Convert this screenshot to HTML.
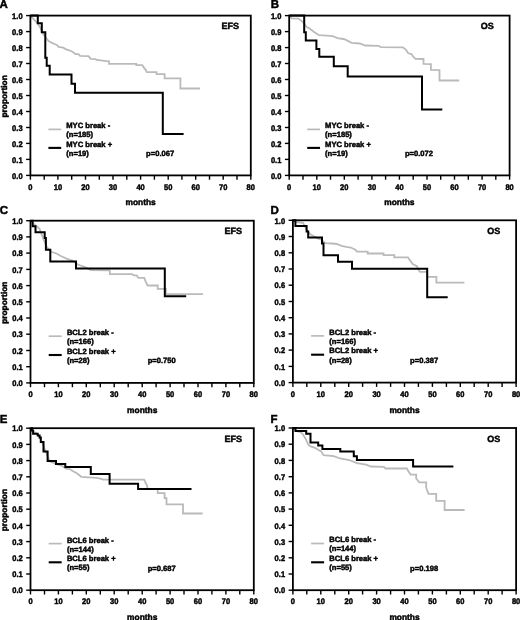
<!DOCTYPE html>
<html><head><meta charset="utf-8"><title>Kaplan-Meier curves</title>
<style>
html,body{margin:0;padding:0;background:#fff;}
body{width:520px;height:620px;overflow:hidden;}
svg{display:block;will-change:transform;}
text{font-family:"Liberation Sans", sans-serif;font-weight:bold;fill:#000;stroke:#000;stroke-width:0.45px;stroke-linejoin:round;text-rendering:geometricPrecision;}
.let{font-size:11.5px;}
.ttl{font-size:9px;text-anchor:end;}
.yl{font-size:8.1px;text-anchor:end;}
.xl{font-size:8.1px;text-anchor:middle;}
.at{font-size:8.4px;text-anchor:middle;}
.lg{font-size:7.6px;}
.gr{fill:none;stroke:#bababa;stroke-width:1.8;stroke-linejoin:miter;}
.bk{fill:none;stroke:#000;stroke-width:2.0;stroke-linejoin:miter;stroke-linecap:butt;}
.ax{fill:none;stroke:#000;stroke-width:1.8;}
.tk{stroke:#000;stroke-width:1.4;}
.lgr{stroke:#bababa;stroke-width:1.7;}
.lbk{stroke:#000;stroke-width:2.1;}
</style></head>
<body>
<svg width="520" height="620" viewBox="0 0 520 620">
<rect width="520" height="620" fill="#fff"/>
<text x="-0.5" y="8.3" class="let">A</text>
<polyline points="30.4,15.6 31.3,16.6 36.0,21.7 38.0,24.0 40.5,28.0 42.5,33.0 45.8,37.8 48.7,41.0 51.5,42.7 55.0,44.2 57.3,45.3 58.5,47.0 63.1,47.6 66.2,49.4 71.5,51.2 73.8,52.7 75.4,54.2 78.5,54.2 80.0,55.8 88.5,56.2 90.8,58.8 95.4,59.2 96.9,60.0 106.2,61.1 109.0,61.4 109.0,63.9 136.3,63.9 136.3,65.2 142.4,65.2 143.7,67.4 145.8,70.1 146.8,72.2 156.5,72.2 156.5,74.2 164.6,74.2 164.6,78.4 180.4,78.4 180.4,88.5 200.0,88.5" class="gr"/>
<polyline points="30.4,15.6 37.8,15.6 37.8,23.2 41.8,23.2 41.8,32.2 45.3,32.2 45.3,57.8 46.7,57.8 46.7,65.7 49.7,65.7 49.7,74.5 71.5,74.5 71.5,83.7 75.0,83.7 75.0,92.8 162.8,92.8 162.8,133.9 183.6,133.9" class="bk"/>
<rect x="30.4" y="15.6" width="220.4" height="159.8" class="ax"/>
<line x1="26.1" y1="175.4" x2="30.4" y2="175.4" class="tk"/>
<text transform="translate(22.6,178.6) scale(0.93,1)" class="yl">0.0</text>
<line x1="26.1" y1="159.4" x2="30.4" y2="159.4" class="tk"/>
<text transform="translate(22.6,162.6) scale(0.93,1)" class="yl">0.1</text>
<line x1="26.1" y1="143.4" x2="30.4" y2="143.4" class="tk"/>
<text transform="translate(22.6,146.6) scale(0.93,1)" class="yl">0.2</text>
<line x1="26.1" y1="127.5" x2="30.4" y2="127.5" class="tk"/>
<text transform="translate(22.6,130.7) scale(0.93,1)" class="yl">0.3</text>
<line x1="26.1" y1="111.5" x2="30.4" y2="111.5" class="tk"/>
<text transform="translate(22.6,114.7) scale(0.93,1)" class="yl">0.4</text>
<line x1="26.1" y1="95.5" x2="30.4" y2="95.5" class="tk"/>
<text transform="translate(22.6,98.7) scale(0.93,1)" class="yl">0.5</text>
<line x1="26.1" y1="79.5" x2="30.4" y2="79.5" class="tk"/>
<text transform="translate(22.6,82.7) scale(0.93,1)" class="yl">0.6</text>
<line x1="26.1" y1="63.5" x2="30.4" y2="63.5" class="tk"/>
<text transform="translate(22.6,66.7) scale(0.93,1)" class="yl">0.7</text>
<line x1="26.1" y1="47.6" x2="30.4" y2="47.6" class="tk"/>
<text transform="translate(22.6,50.8) scale(0.93,1)" class="yl">0.8</text>
<line x1="26.1" y1="31.6" x2="30.4" y2="31.6" class="tk"/>
<text transform="translate(22.6,34.8) scale(0.93,1)" class="yl">0.9</text>
<line x1="26.1" y1="15.6" x2="30.4" y2="15.6" class="tk"/>
<text transform="translate(22.6,18.8) scale(0.93,1)" class="yl">1.0</text>
<line x1="30.4" y1="175.4" x2="30.4" y2="179.7" class="tk"/>
<text transform="translate(30.4,189.5) scale(0.93,1)" class="xl">0</text>
<line x1="44.2" y1="175.4" x2="44.2" y2="179.7" class="tk"/>
<line x1="57.9" y1="175.4" x2="57.9" y2="179.7" class="tk"/>
<text transform="translate(57.9,189.5) scale(0.93,1)" class="xl">10</text>
<line x1="71.7" y1="175.4" x2="71.7" y2="179.7" class="tk"/>
<line x1="85.5" y1="175.4" x2="85.5" y2="179.7" class="tk"/>
<text transform="translate(85.5,189.5) scale(0.93,1)" class="xl">20</text>
<line x1="99.3" y1="175.4" x2="99.3" y2="179.7" class="tk"/>
<line x1="113.0" y1="175.4" x2="113.0" y2="179.7" class="tk"/>
<text transform="translate(113.0,189.5) scale(0.93,1)" class="xl">30</text>
<line x1="126.8" y1="175.4" x2="126.8" y2="179.7" class="tk"/>
<line x1="140.6" y1="175.4" x2="140.6" y2="179.7" class="tk"/>
<text transform="translate(140.6,189.5) scale(0.93,1)" class="xl">40</text>
<line x1="154.4" y1="175.4" x2="154.4" y2="179.7" class="tk"/>
<line x1="168.2" y1="175.4" x2="168.2" y2="179.7" class="tk"/>
<text transform="translate(168.2,189.5) scale(0.93,1)" class="xl">50</text>
<line x1="181.9" y1="175.4" x2="181.9" y2="179.7" class="tk"/>
<line x1="195.7" y1="175.4" x2="195.7" y2="179.7" class="tk"/>
<text transform="translate(195.7,189.5) scale(0.93,1)" class="xl">60</text>
<line x1="209.5" y1="175.4" x2="209.5" y2="179.7" class="tk"/>
<line x1="223.2" y1="175.4" x2="223.2" y2="179.7" class="tk"/>
<text transform="translate(223.2,189.5) scale(0.93,1)" class="xl">70</text>
<line x1="237.0" y1="175.4" x2="237.0" y2="179.7" class="tk"/>
<line x1="250.8" y1="175.4" x2="250.8" y2="179.7" class="tk"/>
<text transform="translate(250.8,189.5) scale(0.93,1)" class="xl">80</text>
<text x="140.6" y="205.4" class="at">months</text>
<text transform="translate(7.1,96.4) rotate(-90)" class="at">proportion</text>
<text x="239.0" y="29.0" class="ttl">EFS</text>
<line x1="48.4" y1="129.4" x2="61.2" y2="129.4" class="lgr"/>
<line x1="48.4" y1="147.9" x2="61.2" y2="147.9" class="lbk"/>
<text x="66.3" y="128.3" class="lg">MYC break -</text>
<text x="66.3" y="137.2" class="lg">(n=185)</text>
<text x="66.3" y="146.5" class="lg">MYC break +</text>
<text x="66.3" y="155.6" class="lg">(n=19)</text>
<text x="146.1" y="155.7" class="lg">p=0.067</text>
<text x="270.7" y="8.3" class="let">B</text>
<polyline points="289.2,15.6 290.5,15.8 291.5,18.3 298.6,18.6 303.4,22.6 306.7,27.0 309.6,28.5 314.4,32.3 319.2,35.2 326.9,35.7 332.7,36.2 337.5,38.1 343.3,39.0 345.0,39.4 351.7,42.8 359.8,43.5 365.2,45.5 378.8,45.8 380.8,47.2 402.9,47.3 405.8,49.6 408.2,53.3 411.5,54.0 413.0,56.5 415.4,58.8 423.5,59.0 423.5,63.9 430.9,64.1 430.9,69.9 439.5,70.1 439.5,80.5 459.2,80.5" class="gr"/>
<polyline points="289.2,15.6 304.2,15.6 304.2,32.2 305.8,32.2 305.8,40.4 316.4,40.4 316.4,49.0 319.3,49.0 319.3,56.8 333.8,56.8 333.8,66.2 347.7,66.2 347.7,76.5 422.0,76.5 422.0,109.5 442.3,109.5" class="bk"/>
<rect x="289.2" y="15.6" width="220.4" height="159.8" class="ax"/>
<line x1="284.9" y1="175.4" x2="289.2" y2="175.4" class="tk"/>
<text transform="translate(281.4,178.6) scale(0.93,1)" class="yl">0.0</text>
<line x1="284.9" y1="159.4" x2="289.2" y2="159.4" class="tk"/>
<text transform="translate(281.4,162.6) scale(0.93,1)" class="yl">0.1</text>
<line x1="284.9" y1="143.4" x2="289.2" y2="143.4" class="tk"/>
<text transform="translate(281.4,146.6) scale(0.93,1)" class="yl">0.2</text>
<line x1="284.9" y1="127.5" x2="289.2" y2="127.5" class="tk"/>
<text transform="translate(281.4,130.7) scale(0.93,1)" class="yl">0.3</text>
<line x1="284.9" y1="111.5" x2="289.2" y2="111.5" class="tk"/>
<text transform="translate(281.4,114.7) scale(0.93,1)" class="yl">0.4</text>
<line x1="284.9" y1="95.5" x2="289.2" y2="95.5" class="tk"/>
<text transform="translate(281.4,98.7) scale(0.93,1)" class="yl">0.5</text>
<line x1="284.9" y1="79.5" x2="289.2" y2="79.5" class="tk"/>
<text transform="translate(281.4,82.7) scale(0.93,1)" class="yl">0.6</text>
<line x1="284.9" y1="63.5" x2="289.2" y2="63.5" class="tk"/>
<text transform="translate(281.4,66.7) scale(0.93,1)" class="yl">0.7</text>
<line x1="284.9" y1="47.6" x2="289.2" y2="47.6" class="tk"/>
<text transform="translate(281.4,50.8) scale(0.93,1)" class="yl">0.8</text>
<line x1="284.9" y1="31.6" x2="289.2" y2="31.6" class="tk"/>
<text transform="translate(281.4,34.8) scale(0.93,1)" class="yl">0.9</text>
<line x1="284.9" y1="15.6" x2="289.2" y2="15.6" class="tk"/>
<text transform="translate(281.4,18.8) scale(0.93,1)" class="yl">1.0</text>
<line x1="289.2" y1="175.4" x2="289.2" y2="179.7" class="tk"/>
<text transform="translate(289.2,189.5) scale(0.93,1)" class="xl">0</text>
<line x1="303.0" y1="175.4" x2="303.0" y2="179.7" class="tk"/>
<line x1="316.8" y1="175.4" x2="316.8" y2="179.7" class="tk"/>
<text transform="translate(316.8,189.5) scale(0.93,1)" class="xl">10</text>
<line x1="330.5" y1="175.4" x2="330.5" y2="179.7" class="tk"/>
<line x1="344.3" y1="175.4" x2="344.3" y2="179.7" class="tk"/>
<text transform="translate(344.3,189.5) scale(0.93,1)" class="xl">20</text>
<line x1="358.1" y1="175.4" x2="358.1" y2="179.7" class="tk"/>
<line x1="371.9" y1="175.4" x2="371.9" y2="179.7" class="tk"/>
<text transform="translate(371.9,189.5) scale(0.93,1)" class="xl">30</text>
<line x1="385.6" y1="175.4" x2="385.6" y2="179.7" class="tk"/>
<line x1="399.4" y1="175.4" x2="399.4" y2="179.7" class="tk"/>
<text transform="translate(399.4,189.5) scale(0.93,1)" class="xl">40</text>
<line x1="413.2" y1="175.4" x2="413.2" y2="179.7" class="tk"/>
<line x1="427.0" y1="175.4" x2="427.0" y2="179.7" class="tk"/>
<text transform="translate(427.0,189.5) scale(0.93,1)" class="xl">50</text>
<line x1="440.7" y1="175.4" x2="440.7" y2="179.7" class="tk"/>
<line x1="454.5" y1="175.4" x2="454.5" y2="179.7" class="tk"/>
<text transform="translate(454.5,189.5) scale(0.93,1)" class="xl">60</text>
<line x1="468.3" y1="175.4" x2="468.3" y2="179.7" class="tk"/>
<line x1="482.1" y1="175.4" x2="482.1" y2="179.7" class="tk"/>
<text transform="translate(482.1,189.5) scale(0.93,1)" class="xl">70</text>
<line x1="495.8" y1="175.4" x2="495.8" y2="179.7" class="tk"/>
<line x1="509.6" y1="175.4" x2="509.6" y2="179.7" class="tk"/>
<text transform="translate(509.6,189.5) scale(0.93,1)" class="xl">80</text>
<text x="399.4" y="205.4" class="at">months</text>
<text x="493.7" y="29.0" class="ttl">OS</text>
<line x1="307.2" y1="129.4" x2="320.0" y2="129.4" class="lgr"/>
<line x1="307.2" y1="147.9" x2="320.0" y2="147.9" class="lbk"/>
<text x="325.1" y="128.3" class="lg">MYC break -</text>
<text x="325.1" y="137.2" class="lg">(n=185)</text>
<text x="325.1" y="146.5" class="lg">MYC break +</text>
<text x="325.1" y="155.6" class="lg">(n=19)</text>
<text x="404.9" y="155.7" class="lg">p=0.072</text>
<text x="-0.3" y="213.6" class="let">C</text>
<polyline points="30.5,220.8 32.6,222.9 39.5,228.7 43.0,237.9 46.5,246.5 50.0,250.5 51.7,252.0 56.5,253.5 61.3,256.3 67.1,258.8 72.8,260.7 77.7,264.5 80.5,265.5 84.4,266.9 88.0,268.5 90.8,270.2 109.8,270.4 109.8,274.2 132.2,274.2 133.7,275.4 136.5,275.4 138.5,277.8 144.2,277.8 145.7,281.6 147.6,285.5 157.7,285.5 157.7,288.8 165.9,288.8 165.9,294.2 203.1,294.2" class="gr"/>
<polyline points="30.5,220.8 32.6,220.8 32.6,226.2 35.5,226.2 35.5,232.2 44.7,232.2 44.7,237.9 45.9,237.9 45.9,249.8 50.3,249.8 50.3,261.4 76.0,261.4 76.0,268.4 164.8,268.4 164.8,296.3 186.2,296.3" class="bk"/>
<rect x="30.5" y="220.7" width="223.3" height="162.2" class="ax"/>
<line x1="26.2" y1="382.9" x2="30.5" y2="382.9" class="tk"/>
<text transform="translate(22.7,386.1) scale(0.93,1)" class="yl">0.0</text>
<line x1="26.2" y1="366.7" x2="30.5" y2="366.7" class="tk"/>
<text transform="translate(22.7,369.9) scale(0.93,1)" class="yl">0.1</text>
<line x1="26.2" y1="350.5" x2="30.5" y2="350.5" class="tk"/>
<text transform="translate(22.7,353.7) scale(0.93,1)" class="yl">0.2</text>
<line x1="26.2" y1="334.2" x2="30.5" y2="334.2" class="tk"/>
<text transform="translate(22.7,337.4) scale(0.93,1)" class="yl">0.3</text>
<line x1="26.2" y1="318.0" x2="30.5" y2="318.0" class="tk"/>
<text transform="translate(22.7,321.2) scale(0.93,1)" class="yl">0.4</text>
<line x1="26.2" y1="301.8" x2="30.5" y2="301.8" class="tk"/>
<text transform="translate(22.7,305.0) scale(0.93,1)" class="yl">0.5</text>
<line x1="26.2" y1="285.6" x2="30.5" y2="285.6" class="tk"/>
<text transform="translate(22.7,288.8) scale(0.93,1)" class="yl">0.6</text>
<line x1="26.2" y1="269.4" x2="30.5" y2="269.4" class="tk"/>
<text transform="translate(22.7,272.6) scale(0.93,1)" class="yl">0.7</text>
<line x1="26.2" y1="253.1" x2="30.5" y2="253.1" class="tk"/>
<text transform="translate(22.7,256.3) scale(0.93,1)" class="yl">0.8</text>
<line x1="26.2" y1="236.9" x2="30.5" y2="236.9" class="tk"/>
<text transform="translate(22.7,240.1) scale(0.93,1)" class="yl">0.9</text>
<line x1="26.2" y1="220.7" x2="30.5" y2="220.7" class="tk"/>
<text transform="translate(22.7,223.9) scale(0.93,1)" class="yl">1.0</text>
<line x1="30.5" y1="382.9" x2="30.5" y2="387.2" class="tk"/>
<text transform="translate(30.5,397.0) scale(0.93,1)" class="xl">0</text>
<line x1="44.5" y1="382.9" x2="44.5" y2="387.2" class="tk"/>
<line x1="58.4" y1="382.9" x2="58.4" y2="387.2" class="tk"/>
<text transform="translate(58.4,397.0) scale(0.93,1)" class="xl">10</text>
<line x1="72.4" y1="382.9" x2="72.4" y2="387.2" class="tk"/>
<line x1="86.3" y1="382.9" x2="86.3" y2="387.2" class="tk"/>
<text transform="translate(86.3,397.0) scale(0.93,1)" class="xl">20</text>
<line x1="100.3" y1="382.9" x2="100.3" y2="387.2" class="tk"/>
<line x1="114.2" y1="382.9" x2="114.2" y2="387.2" class="tk"/>
<text transform="translate(114.2,397.0) scale(0.93,1)" class="xl">30</text>
<line x1="128.2" y1="382.9" x2="128.2" y2="387.2" class="tk"/>
<line x1="142.2" y1="382.9" x2="142.2" y2="387.2" class="tk"/>
<text transform="translate(142.2,397.0) scale(0.93,1)" class="xl">40</text>
<line x1="156.1" y1="382.9" x2="156.1" y2="387.2" class="tk"/>
<line x1="170.1" y1="382.9" x2="170.1" y2="387.2" class="tk"/>
<text transform="translate(170.1,397.0) scale(0.93,1)" class="xl">50</text>
<line x1="184.0" y1="382.9" x2="184.0" y2="387.2" class="tk"/>
<line x1="198.0" y1="382.9" x2="198.0" y2="387.2" class="tk"/>
<text transform="translate(198.0,397.0) scale(0.93,1)" class="xl">60</text>
<line x1="211.9" y1="382.9" x2="211.9" y2="387.2" class="tk"/>
<line x1="225.9" y1="382.9" x2="225.9" y2="387.2" class="tk"/>
<text transform="translate(225.9,397.0) scale(0.93,1)" class="xl">70</text>
<line x1="239.8" y1="382.9" x2="239.8" y2="387.2" class="tk"/>
<line x1="253.8" y1="382.9" x2="253.8" y2="387.2" class="tk"/>
<text transform="translate(253.8,397.0) scale(0.93,1)" class="xl">80</text>
<text x="142.2" y="412.9" class="at">months</text>
<text transform="translate(7.2,302.7) rotate(-90)" class="at">proportion</text>
<text x="242.0" y="234.3" class="ttl">EFS</text>
<line x1="48.7" y1="336.2" x2="61.7" y2="336.2" class="lgr"/>
<line x1="48.7" y1="355.0" x2="61.7" y2="355.0" class="lbk"/>
<text x="66.9" y="335.1" class="lg">BCL2 break -</text>
<text x="66.9" y="344.1" class="lg">(n=166)</text>
<text x="66.9" y="353.6" class="lg">BCL2 break +</text>
<text x="66.9" y="362.8" class="lg">(n=28)</text>
<text x="147.7" y="363.2" class="lg">p=0.750</text>
<text x="270.5" y="213.6" class="let">D</text>
<polyline points="292.9,220.3 296.2,222.2 303.0,222.9 307.7,231.4 310.4,234.2 317.7,238.5 320.8,239.4 325.4,243.2 332.3,243.5 336.9,244.0 341.5,245.8 346.2,246.9 350.8,247.5 355.4,249.8 357.0,251.6 367.7,251.6 367.7,253.5 383.5,253.5 383.5,255.2 394.3,255.2 394.3,257.3 408.0,257.4 410.4,260.9 412.7,264.0 416.9,266.2 418.0,268.8 420.0,271.9 427.2,271.9 427.2,276.9 436.4,276.9 436.4,282.6 464.4,282.6" class="gr"/>
<polyline points="292.9,220.3 295.4,220.3 295.4,226.0 306.6,226.0 306.6,231.4 308.2,231.4 308.2,237.5 322.0,237.5 322.0,243.4 323.5,243.4 323.5,255.2 338.0,255.2 338.0,261.8 352.0,261.8 352.0,268.8 427.2,268.8 427.2,297.3 447.7,297.3" class="bk"/>
<rect x="292.9" y="220.3" width="223.2" height="162.3" class="ax"/>
<line x1="288.6" y1="382.6" x2="292.9" y2="382.6" class="tk"/>
<text transform="translate(285.1,385.8) scale(0.93,1)" class="yl">0.0</text>
<line x1="288.6" y1="366.4" x2="292.9" y2="366.4" class="tk"/>
<text transform="translate(285.1,369.6) scale(0.93,1)" class="yl">0.1</text>
<line x1="288.6" y1="350.1" x2="292.9" y2="350.1" class="tk"/>
<text transform="translate(285.1,353.3) scale(0.93,1)" class="yl">0.2</text>
<line x1="288.6" y1="333.9" x2="292.9" y2="333.9" class="tk"/>
<text transform="translate(285.1,337.1) scale(0.93,1)" class="yl">0.3</text>
<line x1="288.6" y1="317.7" x2="292.9" y2="317.7" class="tk"/>
<text transform="translate(285.1,320.9) scale(0.93,1)" class="yl">0.4</text>
<line x1="288.6" y1="301.5" x2="292.9" y2="301.5" class="tk"/>
<text transform="translate(285.1,304.7) scale(0.93,1)" class="yl">0.5</text>
<line x1="288.6" y1="285.2" x2="292.9" y2="285.2" class="tk"/>
<text transform="translate(285.1,288.4) scale(0.93,1)" class="yl">0.6</text>
<line x1="288.6" y1="269.0" x2="292.9" y2="269.0" class="tk"/>
<text transform="translate(285.1,272.2) scale(0.93,1)" class="yl">0.7</text>
<line x1="288.6" y1="252.8" x2="292.9" y2="252.8" class="tk"/>
<text transform="translate(285.1,256.0) scale(0.93,1)" class="yl">0.8</text>
<line x1="288.6" y1="236.5" x2="292.9" y2="236.5" class="tk"/>
<text transform="translate(285.1,239.7) scale(0.93,1)" class="yl">0.9</text>
<line x1="288.6" y1="220.3" x2="292.9" y2="220.3" class="tk"/>
<text transform="translate(285.1,223.5) scale(0.93,1)" class="yl">1.0</text>
<line x1="292.9" y1="382.6" x2="292.9" y2="386.9" class="tk"/>
<text transform="translate(292.9,396.7) scale(0.93,1)" class="xl">0</text>
<line x1="306.8" y1="382.6" x2="306.8" y2="386.9" class="tk"/>
<line x1="320.8" y1="382.6" x2="320.8" y2="386.9" class="tk"/>
<text transform="translate(320.8,396.7) scale(0.93,1)" class="xl">10</text>
<line x1="334.8" y1="382.6" x2="334.8" y2="386.9" class="tk"/>
<line x1="348.7" y1="382.6" x2="348.7" y2="386.9" class="tk"/>
<text transform="translate(348.7,396.7) scale(0.93,1)" class="xl">20</text>
<line x1="362.6" y1="382.6" x2="362.6" y2="386.9" class="tk"/>
<line x1="376.6" y1="382.6" x2="376.6" y2="386.9" class="tk"/>
<text transform="translate(376.6,396.7) scale(0.93,1)" class="xl">30</text>
<line x1="390.6" y1="382.6" x2="390.6" y2="386.9" class="tk"/>
<line x1="404.5" y1="382.6" x2="404.5" y2="386.9" class="tk"/>
<text transform="translate(404.5,396.7) scale(0.93,1)" class="xl">40</text>
<line x1="418.4" y1="382.6" x2="418.4" y2="386.9" class="tk"/>
<line x1="432.4" y1="382.6" x2="432.4" y2="386.9" class="tk"/>
<text transform="translate(432.4,396.7) scale(0.93,1)" class="xl">50</text>
<line x1="446.4" y1="382.6" x2="446.4" y2="386.9" class="tk"/>
<line x1="460.3" y1="382.6" x2="460.3" y2="386.9" class="tk"/>
<text transform="translate(460.3,396.7) scale(0.93,1)" class="xl">60</text>
<line x1="474.2" y1="382.6" x2="474.2" y2="386.9" class="tk"/>
<line x1="488.2" y1="382.6" x2="488.2" y2="386.9" class="tk"/>
<text transform="translate(488.2,396.7) scale(0.93,1)" class="xl">70</text>
<line x1="502.1" y1="382.6" x2="502.1" y2="386.9" class="tk"/>
<line x1="516.1" y1="382.6" x2="516.1" y2="386.9" class="tk"/>
<text transform="translate(516.1,396.7) scale(0.93,1)" class="xl">80</text>
<text x="404.5" y="412.6" class="at">months</text>
<text x="500.2" y="233.9" class="ttl">OS</text>
<line x1="311.1" y1="335.9" x2="324.1" y2="335.9" class="lgr"/>
<line x1="311.1" y1="354.7" x2="324.1" y2="354.7" class="lbk"/>
<text x="329.3" y="334.8" class="lg">BCL2 break -</text>
<text x="329.3" y="343.8" class="lg">(n=166)</text>
<text x="329.3" y="353.2" class="lg">BCL2 break +</text>
<text x="329.3" y="362.5" class="lg">(n=28)</text>
<text x="410.1" y="362.9" class="lg">p=0.387</text>
<text x="-0.3" y="422.5" class="let">E</text>
<polyline points="30.5,428.2 33.0,431.0 38.0,434.5 41.0,440.0 44.0,447.0 47.0,455.0 50.0,461.5 56.0,463.8 62.0,465.8 65.8,468.7 69.6,469.1 73.5,471.5 77.3,473.5 81.2,476.8 88.8,477.3 96.5,477.8 100.4,478.6 103.3,479.7 144.2,479.7 145.7,483.0 147.1,485.9 147.7,488.9 157.7,488.9 157.7,493.1 164.6,493.1 164.6,498.1 166.5,498.1 166.5,504.3 183.0,504.3 183.0,513.5 202.7,513.5" class="gr"/>
<polyline points="30.5,428.2 31.9,428.2 31.9,430.6 33.1,430.6 33.1,433.7 37.7,433.7 37.7,435.6 39.6,435.6 39.6,437.5 40.8,437.5 40.8,442.0 43.5,442.0 43.5,451.6 47.6,451.6 47.6,460.9 56.0,460.9 56.0,463.9 65.3,463.9 65.3,467.0 90.8,467.0 90.8,474.0 109.6,474.0 109.6,483.7 138.1,483.7 138.1,488.9 191.5,488.9" class="bk"/>
<rect x="30.5" y="428.2" width="223.3" height="162.0" class="ax"/>
<line x1="26.2" y1="590.2" x2="30.5" y2="590.2" class="tk"/>
<text transform="translate(22.7,593.4) scale(0.93,1)" class="yl">0.0</text>
<line x1="26.2" y1="574.0" x2="30.5" y2="574.0" class="tk"/>
<text transform="translate(22.7,577.2) scale(0.93,1)" class="yl">0.1</text>
<line x1="26.2" y1="557.8" x2="30.5" y2="557.8" class="tk"/>
<text transform="translate(22.7,561.0) scale(0.93,1)" class="yl">0.2</text>
<line x1="26.2" y1="541.6" x2="30.5" y2="541.6" class="tk"/>
<text transform="translate(22.7,544.8) scale(0.93,1)" class="yl">0.3</text>
<line x1="26.2" y1="525.4" x2="30.5" y2="525.4" class="tk"/>
<text transform="translate(22.7,528.6) scale(0.93,1)" class="yl">0.4</text>
<line x1="26.2" y1="509.2" x2="30.5" y2="509.2" class="tk"/>
<text transform="translate(22.7,512.4) scale(0.93,1)" class="yl">0.5</text>
<line x1="26.2" y1="493.0" x2="30.5" y2="493.0" class="tk"/>
<text transform="translate(22.7,496.2) scale(0.93,1)" class="yl">0.6</text>
<line x1="26.2" y1="476.8" x2="30.5" y2="476.8" class="tk"/>
<text transform="translate(22.7,480.0) scale(0.93,1)" class="yl">0.7</text>
<line x1="26.2" y1="460.6" x2="30.5" y2="460.6" class="tk"/>
<text transform="translate(22.7,463.8) scale(0.93,1)" class="yl">0.8</text>
<line x1="26.2" y1="444.4" x2="30.5" y2="444.4" class="tk"/>
<text transform="translate(22.7,447.6) scale(0.93,1)" class="yl">0.9</text>
<line x1="26.2" y1="428.2" x2="30.5" y2="428.2" class="tk"/>
<text transform="translate(22.7,431.4) scale(0.93,1)" class="yl">1.0</text>
<line x1="30.5" y1="590.2" x2="30.5" y2="594.5" class="tk"/>
<text transform="translate(30.5,604.3) scale(0.93,1)" class="xl">0</text>
<line x1="44.5" y1="590.2" x2="44.5" y2="594.5" class="tk"/>
<line x1="58.4" y1="590.2" x2="58.4" y2="594.5" class="tk"/>
<text transform="translate(58.4,604.3) scale(0.93,1)" class="xl">10</text>
<line x1="72.4" y1="590.2" x2="72.4" y2="594.5" class="tk"/>
<line x1="86.3" y1="590.2" x2="86.3" y2="594.5" class="tk"/>
<text transform="translate(86.3,604.3) scale(0.93,1)" class="xl">20</text>
<line x1="100.3" y1="590.2" x2="100.3" y2="594.5" class="tk"/>
<line x1="114.2" y1="590.2" x2="114.2" y2="594.5" class="tk"/>
<text transform="translate(114.2,604.3) scale(0.93,1)" class="xl">30</text>
<line x1="128.2" y1="590.2" x2="128.2" y2="594.5" class="tk"/>
<line x1="142.2" y1="590.2" x2="142.2" y2="594.5" class="tk"/>
<text transform="translate(142.2,604.3) scale(0.93,1)" class="xl">40</text>
<line x1="156.1" y1="590.2" x2="156.1" y2="594.5" class="tk"/>
<line x1="170.1" y1="590.2" x2="170.1" y2="594.5" class="tk"/>
<text transform="translate(170.1,604.3) scale(0.93,1)" class="xl">50</text>
<line x1="184.0" y1="590.2" x2="184.0" y2="594.5" class="tk"/>
<line x1="198.0" y1="590.2" x2="198.0" y2="594.5" class="tk"/>
<text transform="translate(198.0,604.3) scale(0.93,1)" class="xl">60</text>
<line x1="211.9" y1="590.2" x2="211.9" y2="594.5" class="tk"/>
<line x1="225.9" y1="590.2" x2="225.9" y2="594.5" class="tk"/>
<text transform="translate(225.9,604.3) scale(0.93,1)" class="xl">70</text>
<line x1="239.8" y1="590.2" x2="239.8" y2="594.5" class="tk"/>
<line x1="253.8" y1="590.2" x2="253.8" y2="594.5" class="tk"/>
<text transform="translate(253.8,604.3) scale(0.93,1)" class="xl">80</text>
<text x="142.2" y="620.2" class="at">months</text>
<text transform="translate(7.2,510.1) rotate(-90)" class="at">proportion</text>
<text x="242.0" y="441.8" class="ttl">EFS</text>
<line x1="48.7" y1="543.6" x2="61.7" y2="543.6" class="lgr"/>
<line x1="48.7" y1="562.3" x2="61.7" y2="562.3" class="lbk"/>
<text x="66.9" y="542.5" class="lg">BCL6 break -</text>
<text x="66.9" y="551.5" class="lg">(n=144)</text>
<text x="66.9" y="560.9" class="lg">BCL6 break +</text>
<text x="66.9" y="570.1" class="lg">(n=55)</text>
<text x="147.7" y="570.5" class="lg">p=0.687</text>
<text x="270.5" y="422.5" class="let">F</text>
<polyline points="292.9,428.0 295.5,430.6 301.2,432.5 303.5,435.2 305.8,439.1 308.2,444.5 310.5,446.4 315.1,447.9 318.2,449.8 321.2,451.4 323.5,455.2 333.8,456.2 340.0,458.5 349.2,460.0 356.9,463.1 366.2,464.6 370.8,466.5 383.8,466.9 385.4,468.5 406.9,468.5 408.5,471.5 410.8,474.6 416.2,474.6 416.2,478.5 419.2,482.3 426.2,482.3 426.2,487.7 428.5,493.8 436.2,493.8 436.2,500.8 444.6,500.8 444.6,510.0 464.6,510.0" class="gr"/>
<polyline points="292.9,428.0 295.5,428.0 295.5,431.0 306.2,431.0 306.2,433.7 310.5,433.7 310.5,442.5 318.2,442.5 318.2,445.6 322.4,445.6 322.4,448.9 340.3,448.9 340.3,451.5 353.8,451.5 353.8,456.2 356.9,456.2 356.9,460.0 413.1,460.0 413.1,466.6 453.4,466.6" class="bk"/>
<rect x="292.9" y="428.0" width="223.2" height="162.2" class="ax"/>
<line x1="288.6" y1="590.2" x2="292.9" y2="590.2" class="tk"/>
<text transform="translate(285.1,593.4) scale(0.93,1)" class="yl">0.0</text>
<line x1="288.6" y1="574.0" x2="292.9" y2="574.0" class="tk"/>
<text transform="translate(285.1,577.2) scale(0.93,1)" class="yl">0.1</text>
<line x1="288.6" y1="557.8" x2="292.9" y2="557.8" class="tk"/>
<text transform="translate(285.1,561.0) scale(0.93,1)" class="yl">0.2</text>
<line x1="288.6" y1="541.5" x2="292.9" y2="541.5" class="tk"/>
<text transform="translate(285.1,544.7) scale(0.93,1)" class="yl">0.3</text>
<line x1="288.6" y1="525.3" x2="292.9" y2="525.3" class="tk"/>
<text transform="translate(285.1,528.5) scale(0.93,1)" class="yl">0.4</text>
<line x1="288.6" y1="509.1" x2="292.9" y2="509.1" class="tk"/>
<text transform="translate(285.1,512.3) scale(0.93,1)" class="yl">0.5</text>
<line x1="288.6" y1="492.9" x2="292.9" y2="492.9" class="tk"/>
<text transform="translate(285.1,496.1) scale(0.93,1)" class="yl">0.6</text>
<line x1="288.6" y1="476.7" x2="292.9" y2="476.7" class="tk"/>
<text transform="translate(285.1,479.9) scale(0.93,1)" class="yl">0.7</text>
<line x1="288.6" y1="460.4" x2="292.9" y2="460.4" class="tk"/>
<text transform="translate(285.1,463.6) scale(0.93,1)" class="yl">0.8</text>
<line x1="288.6" y1="444.2" x2="292.9" y2="444.2" class="tk"/>
<text transform="translate(285.1,447.4) scale(0.93,1)" class="yl">0.9</text>
<line x1="288.6" y1="428.0" x2="292.9" y2="428.0" class="tk"/>
<text transform="translate(285.1,431.2) scale(0.93,1)" class="yl">1.0</text>
<line x1="292.9" y1="590.2" x2="292.9" y2="594.5" class="tk"/>
<text transform="translate(292.9,604.3) scale(0.93,1)" class="xl">0</text>
<line x1="306.8" y1="590.2" x2="306.8" y2="594.5" class="tk"/>
<line x1="320.8" y1="590.2" x2="320.8" y2="594.5" class="tk"/>
<text transform="translate(320.8,604.3) scale(0.93,1)" class="xl">10</text>
<line x1="334.8" y1="590.2" x2="334.8" y2="594.5" class="tk"/>
<line x1="348.7" y1="590.2" x2="348.7" y2="594.5" class="tk"/>
<text transform="translate(348.7,604.3) scale(0.93,1)" class="xl">20</text>
<line x1="362.6" y1="590.2" x2="362.6" y2="594.5" class="tk"/>
<line x1="376.6" y1="590.2" x2="376.6" y2="594.5" class="tk"/>
<text transform="translate(376.6,604.3) scale(0.93,1)" class="xl">30</text>
<line x1="390.6" y1="590.2" x2="390.6" y2="594.5" class="tk"/>
<line x1="404.5" y1="590.2" x2="404.5" y2="594.5" class="tk"/>
<text transform="translate(404.5,604.3) scale(0.93,1)" class="xl">40</text>
<line x1="418.4" y1="590.2" x2="418.4" y2="594.5" class="tk"/>
<line x1="432.4" y1="590.2" x2="432.4" y2="594.5" class="tk"/>
<text transform="translate(432.4,604.3) scale(0.93,1)" class="xl">50</text>
<line x1="446.4" y1="590.2" x2="446.4" y2="594.5" class="tk"/>
<line x1="460.3" y1="590.2" x2="460.3" y2="594.5" class="tk"/>
<text transform="translate(460.3,604.3) scale(0.93,1)" class="xl">60</text>
<line x1="474.2" y1="590.2" x2="474.2" y2="594.5" class="tk"/>
<line x1="488.2" y1="590.2" x2="488.2" y2="594.5" class="tk"/>
<text transform="translate(488.2,604.3) scale(0.93,1)" class="xl">70</text>
<line x1="502.1" y1="590.2" x2="502.1" y2="594.5" class="tk"/>
<line x1="516.1" y1="590.2" x2="516.1" y2="594.5" class="tk"/>
<text transform="translate(516.1,604.3) scale(0.93,1)" class="xl">80</text>
<text x="404.5" y="620.2" class="at">months</text>
<text x="500.2" y="441.6" class="ttl">OS</text>
<line x1="311.1" y1="543.5" x2="324.1" y2="543.5" class="lgr"/>
<line x1="311.1" y1="562.3" x2="324.1" y2="562.3" class="lbk"/>
<text x="329.3" y="542.4" class="lg">BCL6 break -</text>
<text x="329.3" y="551.4" class="lg">(n=144)</text>
<text x="329.3" y="560.9" class="lg">BCL6 break +</text>
<text x="329.3" y="570.1" class="lg">(n=55)</text>
<text x="410.1" y="570.5" class="lg">p=0.198</text>
</svg>
</body></html>
